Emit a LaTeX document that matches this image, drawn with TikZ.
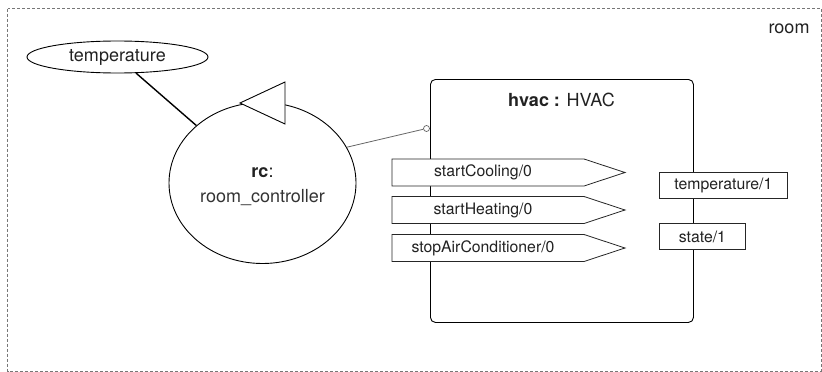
\documentclass[tikz,border=0pt]{standalone}
\usepackage{fontspec}
\setmainfont{TeX Gyre Heros}
\usetikzlibrary{shapes.geometric}
\definecolor{framegray}{HTML}{777777}
\definecolor{linegray}{HTML}{666666}
\definecolor{textdark}{HTML}{222222}
\tikzset{
  bigtext/.style={font=\fontsize{18}{20}\selectfont, text=textdark},
  porttext/.style={font=\fontsize{15.8}{18}\selectfont, text=textdark, inner sep=0pt},
  shapeline/.style={draw=black, line width=0.9pt},
  portshape/.style={draw=black!85, line width=0.8pt, fill=white},
  framebox/.style={draw=framegray, line width=0.9pt, dash pattern=on 3pt off 2pt},
}
\begin{document}
\begin{tikzpicture}[x=1pt,y=-1pt]
\useasboundingbox (0,0) rectangle (822,372);
% outer frame
\draw[framebox] (7.5,8.5) rectangle (821,371);
\node[bigtext, anchor=base east] (room) at (813,33) {room};

% temperature ellipse
\node[ellipse, shapeline, minimum width=181pt, minimum height=32pt, inner sep=0pt, bigtext] (temp) at (117.5,57) {temperature};

% room controller
\node[ellipse, shapeline, minimum width=187pt, minimum height=161pt, inner sep=0pt] (rc) at (262.5,183) {};
\node[bigtext, anchor=base] (rct) at (262.5,177) {\textbf{rc}:};
\node[bigtext, anchor=base, text=black!80] (rcn) at (262.5,202) {room\_controller};
\coordinate (tri1) at (240,103);
\coordinate (tri2) at (285,82);
\coordinate (tri3) at (285,124);
\draw[shapeline, fill=white] (tri1) -- (tri2) -- (tri3) -- cycle;

\draw[line width=1.4pt] (temp) -- (rc);

% HVAC
\node[shapeline, rounded corners=5pt, minimum width=263pt, minimum height=243pt, inner sep=0pt, anchor=north west] (hvac) at (430,79) {};
\node[bigtext, anchor=base] (hvact) at (561.5,106) {\textbf{hvac :} HVAC};

% required interface connector
\node[circle, draw=linegray, line width=0.7pt, fill=white, minimum size=6pt, inner sep=0pt] (sock) at (426.5,128.5) {};
\draw[linegray, line width=0.8pt] (rc.23) -- (sock);

% input ports
\foreach \t/\lab/\nm in {159/startCooling\slash 0/pa, 196.5/startHeating\slash 0/pb, 234.5/stopAirConditioner\slash 0/pc}{
  \draw[portshape] (392,\t) -- (584,\t) -- (625,\t+13.5) -- (584,\t+27) -- (392,\t+27) -- cycle;
  \node[porttext] (\nm) at (483,\t+13.5) {\lab};
}

% output ports
\node[portshape, minimum width=128pt, minimum height=26pt, inner sep=0pt, anchor=north west, porttext] (outa) at (659,172) {temperature/1};
\node[portshape, minimum width=86pt, minimum height=26pt, inner sep=0pt, anchor=north west, porttext] (outb) at (659,223) {state/1};
\end{tikzpicture}
\end{document}
